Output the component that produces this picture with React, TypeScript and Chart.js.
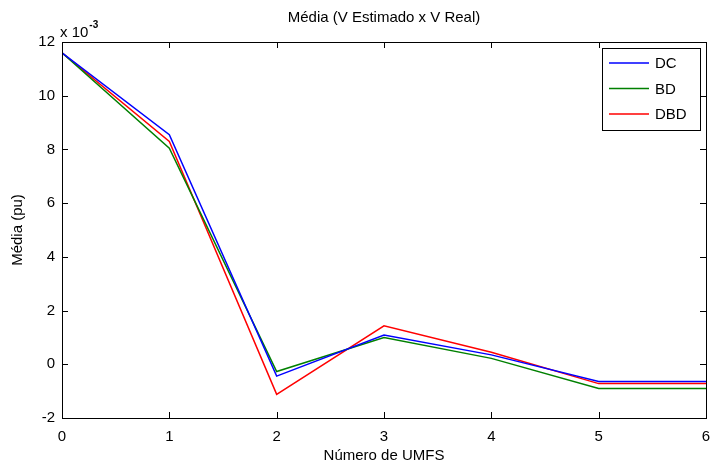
import React, { useEffect, useRef } from "react";
import { Chart, registerables } from "chart.js";

Chart.register(...registerables);

const categories = [0, 1, 2, 3, 4, 5, 6];
const dcValues = [11.6, 8.55, -0.44, 1.09, 0.35, -0.64, -0.64];
const bdValues = [11.6, 8.05, -0.27, 1.0, 0.22, -0.9, -0.9];
const dbdValues = [11.6, 8.3, -1.12, 1.43, 0.45, -0.72, -0.72];
const seriesLabels = ["DC", "BD", "DBD"];
const seriesColors = ["#0000ff", "#008000", "#ff0000"];
const yTicks = [-2, 0, 2, 4, 6, 8, 10, 12];
const xTicks = [0, 1, 2, 3, 4, 5, 6];

const FONT = "Liberation Sans, Arial, sans-serif";

const matlabPlugin = {
  id: "matlabBox",
  afterDraw(chart: any) {
    const { ctx, chartArea: a, scales } = chart;
    const xs = scales.x;
    const ys = scales.y;
    ctx.save();
    ctx.strokeStyle = "#000";
    ctx.lineWidth = 1;
    ctx.strokeRect(Math.round(a.left) + 0.5, Math.round(a.top) + 0.5, Math.round(a.right - a.left), Math.round(a.bottom - a.top));
    const tl = 6;
    ctx.beginPath();
    for (const v of xTicks) {
      const px = Math.round(xs.getPixelForValue(v)) + 0.5;
      ctx.moveTo(px, a.bottom);
      ctx.lineTo(px, a.bottom - tl);
      ctx.moveTo(px, a.top);
      ctx.lineTo(px, a.top + tl);
    }
    for (const v of yTicks) {
      const py = Math.round(ys.getPixelForValue(v)) + 0.5;
      ctx.moveTo(a.left, py);
      ctx.lineTo(a.left + tl, py);
      ctx.moveTo(a.right, py);
      ctx.lineTo(a.right - tl, py);
    }
    ctx.stroke();

    // Title
    ctx.fillStyle = "#000";
    ctx.font = `15px ${FONT}`;
    ctx.textAlign = "center";
    ctx.textBaseline = "middle";
    ctx.fillText("Média (V Estimado x V Real)", (a.left + a.right) / 2, 18);
    // X title
    ctx.fillText("Número de UMFS", (a.left + a.right) / 2, 456);
    // Y title
    ctx.save();
    ctx.translate(18, (a.top + a.bottom) / 2);
    ctx.rotate(-Math.PI / 2);
    ctx.fillText("Média (pu)", 0, 0);
    ctx.restore();
    // Exponent
    ctx.textAlign = "left";
    ctx.textBaseline = "alphabetic";
    ctx.font = `15px ${FONT}`;
    ctx.fillText("x 10", 60, 37);
    const w = ctx.measureText("x 10").width;
    ctx.font = `bold 10px ${FONT}`;
    ctx.fillText("-3", 60 + w + 1, 28);

    // Legend
    const lx = 602, ly = 48, lw = 98, lh = 82;
    ctx.fillStyle = "#fff";
    ctx.fillRect(lx, ly, lw, lh);
    ctx.strokeStyle = "#000";
    ctx.strokeRect(lx + 0.5, ly + 0.5, lw, lh);
    ctx.font = `15px ${FONT}`;
    ctx.textBaseline = "middle";
    chart.data.datasets.forEach((ds: any, i: number) => {
      const y = 63 + i * 25.5;
      ctx.strokeStyle = ds.borderColor;
      ctx.lineWidth = 1.5;
      ctx.beginPath();
      ctx.moveTo(609, y);
      ctx.lineTo(649, y);
      ctx.stroke();
      ctx.fillStyle = "#000";
      ctx.fillText(ds.label, 655, y + 1);
    });
    ctx.restore();
  },
};

export default function App() {
  const ref = useRef<HTMLCanvasElement>(null);
  useEffect(() => {
    document.body.style.margin = "0";
    const data = [dcValues, bdValues, dbdValues];
    const chart = new Chart(ref.current as HTMLCanvasElement, {
      type: "line",
      data: {
        datasets: data.map((vals, i) => ({
          label: seriesLabels[i],
          data: categories.map((c, j) => ({ x: c, y: vals[j] })),
          borderColor: seriesColors[i],
          backgroundColor: seriesColors[i],
          borderWidth: 1.5,
          pointRadius: 0,
          tension: 0,
          fill: false,
        })),
      },
      options: {
        animation: false,
        responsive: false,
        maintainAspectRatio: false,
        layout: { padding: { top: 42, right: 5, left: 0, bottom: 0 } },
        plugins: { legend: { display: false }, title: { display: false }, tooltip: { enabled: false } },
        scales: {
          x: {
            type: "linear",
            min: 0,
            max: 6,
            afterBuildTicks: (s: any) => { s.ticks = xTicks.map((v) => ({ value: v })); },
            afterFit: (s: any) => { s.height = 49; s.paddingLeft = 0; s.paddingRight = 0; },
            grid: { display: false, drawTicks: false },
            border: { display: false },
            ticks: { color: "#000", font: { family: FONT, size: 15 }, padding: 10, maxRotation: 0 },
          },
          y: {
            type: "linear",
            min: -2,
            max: 12,
            afterBuildTicks: (s: any) => { s.ticks = yTicks.map((v) => ({ value: v })); },
            afterFit: (s: any) => { s.width = 62; s.paddingTop = 0; s.paddingBottom = 0; },
            grid: { display: false, drawTicks: false },
            border: { display: false },
            ticks: { color: "#000", font: { family: FONT, size: 15 }, padding: 7 },
          },
        },
      },
      plugins: [matlabPlugin],
    } as any);
    return () => chart.destroy();
  }, []);
  return (
    <div style={{ position: "absolute", left: 0, top: 0, width: 711, height: 467, background: "#fff" }}>
      <canvas ref={ref} width={711} height={467} style={{ width: 711, height: 467 }} />
    </div>
  );
}
